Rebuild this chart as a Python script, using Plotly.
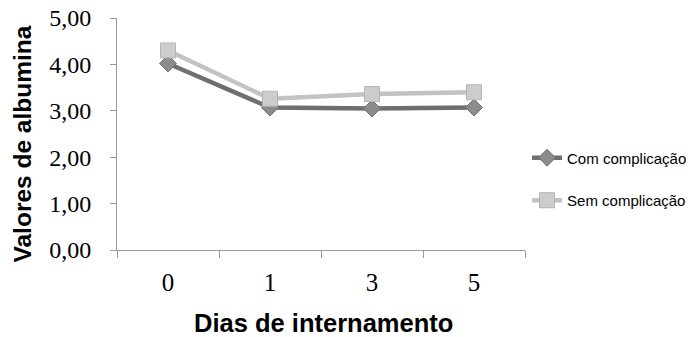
import plotly.graph_objects as go

dias = ["0", "1", "3", "5"]
com_complicacao = [4.02, 3.07, 3.05, 3.07]
sem_complicacao = [4.30, 3.26, 3.36, 3.40]
y_ticks = [0, 1, 2, 3, 4, 5]
x_title = "Dias de internamento"
y_title = "Valores de albumina"

fig = go.Figure()
fig.add_trace(go.Scatter(
    x=dias, y=com_complicacao, name="Com complicação", mode="lines+markers",
    line=dict(color="#6f6f6f", width=4.5),
    marker=dict(symbol="diamond", size=13, color="#8c8c8c", line=dict(color="#6f6f6f", width=1)),
    legendgroup="a",
))
fig.add_trace(go.Scatter(
    x=dias, y=sem_complicacao, name="Sem complicação", mode="lines+markers",
    line=dict(color="#c3c3c3", width=4.5),
    marker=dict(symbol="square", size=15, color="#cdcdcd", line=dict(color="#b3b3b3", width=1)),
    legendgroup="b",
))

fig.update_layout(
    width=696, height=337,
    margin=dict(l=117, r=171, t=18, b=87, autoexpand=False),
    paper_bgcolor="white", plot_bgcolor="white",
    separators=",.",
    showlegend=True,
    legend=dict(x=1.005, y=0.306, xanchor="left", yanchor="middle",
                font=dict(family="Liberation Sans, Arial", size=15, color="#000"),
                tracegroupgap=20, bgcolor="rgba(0,0,0,0)"),
    xaxis=dict(
        type="category", showgrid=False, showline=True, linecolor="#999999", linewidth=1,
        ticks="outside", tickson="boundaries", ticklen=7, tickcolor="#999999",
        tickfont=dict(family="Liberation Serif, DejaVu Serif", size=25, color="#000"),
        ticklabelstandoff=10, automargin=False, ticklabeloverflow="allow",
        range=[-0.5, 3.5],
    ),
    yaxis=dict(
        range=[0, 5], tickvals=y_ticks, tickformat=".2f", showgrid=False,
        showline=True, linecolor="#999999", linewidth=1,
        ticks="outside", ticklen=6, tickcolor="#999999",
        tickfont=dict(family="Liberation Serif, DejaVu Serif", size=24, color="#000"),
        ticklabelstandoff=14, automargin=False, ticklabeloverflow="allow",
        zeroline=False,
    ),
    annotations=[
        dict(text="<b>" + x_title + "</b>", xref="paper", yref="paper",
             x=0.507, y=-0.315, xanchor="center", yanchor="middle", showarrow=False,
             font=dict(family="Liberation Sans, Arial", size=25.5, color="#000")),
        dict(text="<b>" + y_title + "</b>", xref="paper", yref="paper",
             x=-0.2304, y=0.459, xanchor="center", yanchor="middle", showarrow=False,
             textangle=-90,
             font=dict(family="Liberation Sans, Arial", size=24.5, color="#000")),
    ],
)

fig.write_html(
    "out.html",
    config={"displayModeBar": False},
    post_script="document.body.style.margin='0';document.body.style.overflow='hidden';",
)
